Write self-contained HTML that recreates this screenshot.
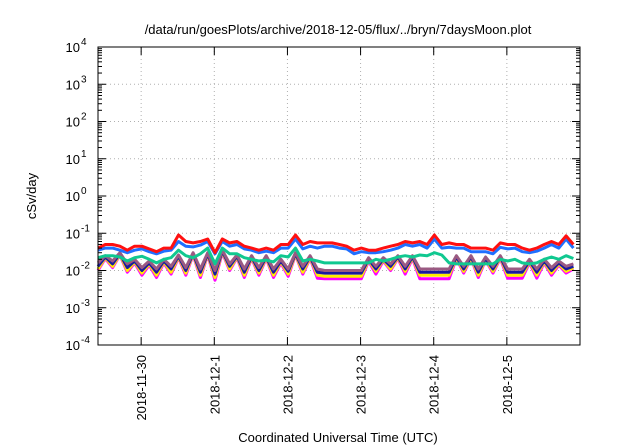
<!DOCTYPE html>
<html><head><meta charset="utf-8"><style>
body{margin:0;background:#fff}
svg{display:block;font-family:"Liberation Sans",sans-serif}
</style></head><body>
<svg id="chart" width="640" height="448" viewBox="0 0 640 448">
<rect width="640" height="448" fill="#fff"/>
<text x="338" y="34" font-size="13" text-anchor="middle">/data/run/goesPlots/archive/2018-12-05/flux/../bryn/7daysMoon.plot</text>
<text x="338" y="442" font-size="13" text-anchor="middle">Coordinated Universal Time (UTC)</text>
<text transform="translate(36,196) rotate(-90)" font-size="13" text-anchor="middle">cSv/day</text>
<g id="grid"></g><g id="series"></g><g id="axes"></g>
</svg>
<script>
const xTickLabels=["2018-11-30","2018-12-1","2018-12-2","2018-12-3","2018-12-4","2018-12-5"];
const xTickDays=[1,2,3,4,5,6];
const yTickExps=[4,3,2,1,0,-1,-2,-3,-4];
const tStart=0.41, tStep=0.1;
const red=[4,5,5,4.5,3.5,4.5,4.5,3.8,3.2,4,4,9,6,5.5,6,7,3,7,5.5,6,4.5,4,3.5,4,3.5,5,5,9,5,6,5.5,5.5,5.5,5,4.5,3.5,4,3.5,3.5,4,4.5,5,6,5.5,6,5,9,5,5.5,5,5,4,4,4,3.5,5.5,5,5,4,3.5,4,5,6,5,8.5,5];
const blue=[3.5,4,4,3.5,3,3.5,3.8,3.2,2.8,3.3,3.5,6,4.5,4.3,4.8,6,2.8,6,4.5,5,3.8,3.5,3,3.3,3,4,4,7,3.8,4.5,4,4.5,4.5,4,3.8,2.8,3.2,3,3,3.2,3.5,4,5,4.5,5,4,7,4,4.2,4,4,3.2,3.2,3.2,2.8,4.2,3.8,4,3.2,3,3.3,4,5,4,7,4];
const teal=[2.2,2.5,2.5,2.3,1.8,2.2,2.4,2,1.6,2,2.2,3.5,2.5,2.2,2.8,4,1.5,4,2.8,2.8,2.2,2,1.8,1.9,1.7,2.5,2.3,4,1.8,2,1.8,1.6,1.6,1.6,1.6,1.6,1.6,1.6,2,1.8,2,2.3,2.5,2.3,2.6,2.5,3,2.6,1.6,1.5,1.5,1.5,1.5,1.5,1.5,2,1.8,2,1.6,1.5,1.6,2,2.3,2,2.5,2.1];
const mauve=[1.6,2.5,1.8,3,1.5,2,1.2,1.8,1.1,2,1.3,2.6,1.2,3,1.1,3,1,3.5,1.5,2.6,1.1,2.5,1.2,2.5,1.1,2,1.1,3,1.3,2.5,1.1,1,1,1,1,1,1,2.2,1.3,2.2,1.5,2.5,1.3,2.5,1.1,1.1,1.1,1.1,1.1,2.5,1.3,2.5,1.1,2.3,1.3,2.5,1.1,1.1,1.1,2,1.1,2,1.2,1.8,1.3,1.5];
const navy=[1.3,2.3,1.5,2.8,1.2,1.8,1,1.6,0.9,1.8,1.1,2.4,1,2.8,0.9,2.8,0.8,3.3,1.3,2.4,0.9,2.3,1,2.3,0.9,1.8,0.95,2.8,1.1,2.3,0.9,0.85,0.85,0.85,0.85,0.85,0.85,2,1.1,2,1.3,2.3,1.1,2.3,0.9,0.9,0.9,0.9,0.9,2.3,1.1,2.3,0.9,2.1,1.1,2.3,0.9,0.9,0.9,1.8,0.9,1.8,1,1.6,1.1,1.3];
const yellow=[1.1,2.2,1.3,2.7,1,1.7,0.85,1.5,0.75,1.7,0.9,2.3,0.85,2.7,0.75,2.7,0.65,3.2,1.1,2.3,0.75,2.2,0.85,2.2,0.75,1.7,0.8,2.7,0.9,2.2,0.75,0.7,0.7,0.7,0.7,0.7,0.7,1.9,0.95,1.9,1.1,2.2,0.95,2.2,0.75,0.75,0.75,0.75,0.75,2.2,0.95,2.2,0.75,2,0.95,2.2,0.75,0.75,0.75,1.7,0.75,1.7,0.85,1.5,0.95,1.2];
const magenta=[1,2.1,1.2,2.6,0.9,1.6,0.75,1.4,0.65,1.6,0.8,2.2,0.75,2.6,0.65,2.6,0.55,3,1,2.2,0.65,2.1,0.75,2.1,0.65,1.6,0.7,2.6,0.8,2.1,0.62,0.6,0.6,0.6,0.6,0.6,0.6,1.8,0.8,1.8,1,2.1,0.8,2.1,0.6,0.6,0.6,0.6,0.6,2.1,0.85,2.1,0.65,1.9,0.85,2.1,0.62,0.62,0.62,1.6,0.62,1.6,0.75,1.4,0.85,1.1];
const seriesList=[["magenta-series",magenta,"#ff00ff"],["yellow-series",yellow,"#ffee00"],["navy-series",navy,"#1a1aa0"],["mauve-series",mauve,"#9a5a82"],["teal-series",teal,"#10c890"],["blue-series",blue,"#1f6fff"],["red-series",red,"#ff1010"]];
const L=98,R=580,T=47,B=345,D0=0.41,D1=7.0;
const NS="http://www.w3.org/2000/svg";
function xs(d){return L+(d-D0)/(D1-D0)*(R-L);}
function ys(v){return T+(4-Math.log10(v))/8*(B-T);}
function mk(tag,attrs,parent){const e=document.createElementNS(NS,tag);for(const k in attrs)e.setAttribute(k,attrs[k]);parent.appendChild(e);return e;}
const grid=document.getElementById('grid'),ser=document.getElementById('series'),ax=document.getElementById('axes');
yTickExps.forEach(p=>{
  const y=ys(Math.pow(10,p));
  if(p<4&&p>-4){const g=mk('line',{x1:L,x2:R,y1:y,y2:y,stroke:'#b0b0b0','stroke-dasharray':'1,3'},grid);
  
  }
  mk('line',{x1:L,x2:L+8,y1:y,y2:y,stroke:'#000'},ax);
  mk('line',{x1:R,x2:R-8,y1:y,y2:y,stroke:'#000'},ax);
  const t=mk('text',{x:80,y:y+5,'font-size':13,'text-anchor':'end'},ax);
  
  
  t.textContent='10';
  const s=mk('text',{x:81,y:y-2,'font-size':10},ax);
  
  
  s.textContent=String(p);
  for(let m=2;m<10&&p>-4;m++){const yy=ys(m*Math.pow(10,p-1));
    mk('line',{x1:L,x2:L+4,y1:yy,y2:yy,stroke:'#000'},ax);mk('line',{x1:R,x2:R-4,y1:yy,y2:yy,stroke:'#000'},ax);}
});
xTickDays.forEach((d,i)=>{
  const x=xs(d);
  const g=mk('line',{x1:x,x2:x,y1:T,y2:B,stroke:'#b0b0b0','stroke-dasharray':'1,3'},grid);
  
  
  mk('line',{x1:x,x2:x,y1:B,y2:B-8,stroke:'#000'},ax);
  mk('line',{x1:x,x2:x,y1:T,y2:T+8,stroke:'#000'},ax);
  const t=mk('text',{transform:`translate(${x+5},${B+10}) rotate(-90)`,'font-size':13,'text-anchor':'end'},ax);
  
  
  t.textContent=xTickLabels[i];
});
const fr=mk('rect',{x:L,y:T,width:R-L,height:B-T,fill:'none',stroke:'#000'},ax);


seriesList.forEach(([name,vals,col])=>{
  const pts=vals.map((v,i)=>xs(tStart+i*tStep).toFixed(1)+','+ys(v/100).toFixed(1)).join(' ');
  const pl=mk('polyline',{points:pts,fill:'none',stroke:col,'stroke-width':3,'stroke-linejoin':'round'},ser);
  
  
});
</script>
</body></html>
